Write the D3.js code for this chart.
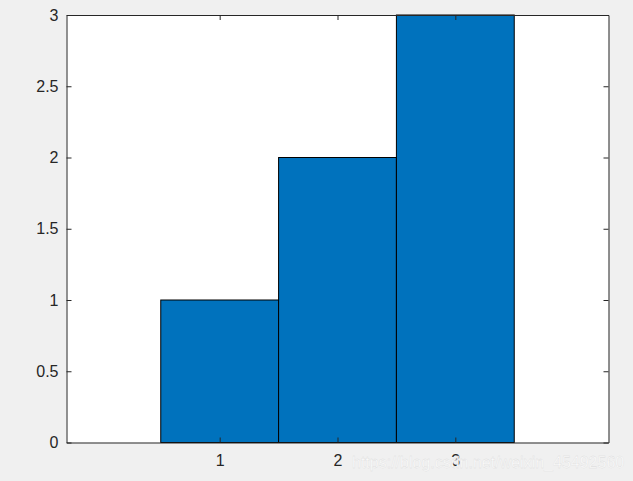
<!DOCTYPE html>
<html>
<head>
<meta charset="utf-8">
<script src="https://cdn.jsdelivr.net/npm/d3@7"></script>
<style>
  body { margin: 0; background: #f0f0f0; }
  svg { display: block; }
</style>
</head>
<body>
<svg id="chart"></svg>
<script>
// Chart data
const categories = [1, 2, 3];
const values = [1, 2, 3];
const xTicks = [1, 2, 3];
const yTicks = [0, 0.5, 1, 1.5, 2, 2.5, 3];

const width = 633;
const height = 481;
const plotLeft = 66.5, plotRight = 608.5, plotTop = 15, plotBottom = 442.5;

const svg = d3.select("#chart").attr("width", width).attr("height", height);

svg.append("rect").attr("width", width).attr("height", height).attr("fill", "#f0f0f0");

const xScale = d3.scaleLinear().domain([-0.3, 4.3]).range([plotLeft, plotRight]);
const yScale = d3.scaleLinear().domain([0, 3]).range([plotBottom, plotTop]);

// Axes area
svg.append("rect")
  .attr("x", plotLeft).attr("y", plotTop)
  .attr("width", plotRight - plotLeft).attr("height", plotBottom - plotTop)
  .attr("fill", "#ffffff");

// Bars (width 1)
svg.selectAll("rect.bar")
  .data(categories)
  .enter()
  .append("rect")
  .attr("class", "bar")
  .attr("x", (d) => xScale(d - 0.5))
  .attr("y", (d, i) => yScale(values[i]))
  .attr("width", (d) => xScale(d + 0.5) - xScale(d - 0.5))
  .attr("height", (d, i) => yScale(0) - yScale(values[i]))
  .attr("fill", "#0072bd")
  .attr("stroke", "#000")
  .attr("stroke-width", 1);

// Axes, ticks inward (MATLAB style)
const font = "Arial, 'Liberation Sans', sans-serif";
const axisColor = "#262626";
const fmt = d3.format("~g");

const bottomAxis = d3.axisBottom(xScale).tickValues(xTicks).tickSizeInner(-5).tickSizeOuter(0).tickPadding(12)
  .tickFormat(fmt);
const leftAxis = d3.axisLeft(yScale).tickValues(yTicks).tickSizeInner(-5).tickSizeOuter(0).tickPadding(8)
  .tickFormat(fmt);
const topAxis = d3.axisTop(xScale).tickValues(xTicks).tickSizeInner(-5).tickSizeOuter(0).tickFormat("");
const rightAxis = d3.axisRight(yScale).tickValues(yTicks).tickSizeInner(-5).tickSizeOuter(0).tickFormat("");

function style(g) {
  g.select(".domain").attr("stroke", axisColor);
  g.selectAll(".tick line").attr("stroke", axisColor);
  g.selectAll(".tick text").attr("fill", axisColor).style("font-family", font).style("font-size", "16px");
}

svg.append("g").attr("transform", "translate(0," + plotBottom + ")").call(bottomAxis).call(style);
svg.append("g").attr("transform", "translate(" + plotLeft + ",0)").call(leftAxis).call(style);
svg.append("g").attr("transform", "translate(0," + plotTop + ")").call(topAxis).call(style);
svg.append("g").attr("transform", "translate(" + plotRight + ",0)").call(rightAxis).call(style);

// Watermark (light text with a faint outline)
svg.append("text")
  .attr("x", 352)
  .attr("y", 468)
  .attr("fill", "#fcfcfc")
  .attr("stroke", "#d9d9d9")
  .attr("stroke-width", 0.3)
  .style("font-family", font)
  .style("font-size", "16px")
  .text("https://blog.csdn.net/weixin_45492560");
</script>
</body>
</html>
